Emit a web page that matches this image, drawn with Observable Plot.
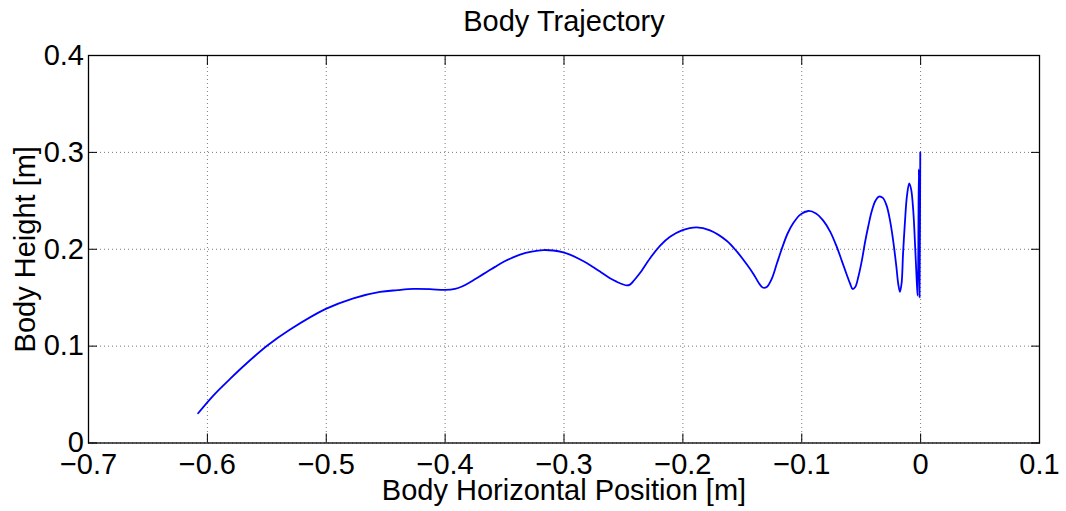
<!DOCTYPE html>
<html>
<head>
<meta charset="utf-8">
<script src="https://cdn.jsdelivr.net/npm/d3@7"></script>
<script src="https://cdn.jsdelivr.net/npm/@observablehq/plot@0.6"></script>
<style>
  body { margin: 0; background: #fff; }
  svg { display: block; }
</style>
</head>
<body>
<div id="chart"></div>
<script>
// Body trajectory samples: horizontal position [m] and height [m]
const bodyX = [
  -0.6078, -0.5950, -0.5809, -0.5669, -0.5495, -0.5304, -0.5004, -0.4772,
  -0.4548, -0.4400, -0.4267, -0.4127, -0.4001, -0.3917, -0.3858, -0.3791,
  -0.3721, -0.3650, -0.3580, -0.3511, -0.3440, -0.3370, -0.3272, -0.3174,
  -0.3090, -0.3006, -0.2950, -0.2880, -0.2809, -0.2740, -0.2697, -0.2613,
  -0.2557, -0.2501, -0.2473, -0.2445, -0.2410, -0.2361, -0.2277, -0.2193,
  -0.2108, -0.2008, -0.1884, -0.1772, -0.1632, -0.1545, -0.1463, -0.1408,
  -0.1360, -0.1329, -0.1295, -0.1253, -0.1210, -0.1169, -0.1120, -0.1071,
  -0.1010, -0.0945, -0.0880, -0.0819, -0.0760, -0.0707, -0.0660, -0.0622,
  -0.0595, -0.0572, -0.0550, -0.0525, -0.0495, -0.0468, -0.0440, -0.0412,
  -0.0380, -0.0351, -0.0318, -0.0286, -0.0258, -0.0231, -0.0205, -0.0188,
  -0.0174, -0.0160, -0.0148, -0.0132, -0.0115, -0.0096, -0.0080, -0.0062,
  -0.0045, -0.0033, -0.0025, -0.0015, -0.0009, -0.0003
];
const bodyY = [
  0.0307, 0.0490, 0.0662, 0.0823, 0.1006, 0.1171, 0.1384, 0.1494,
  0.1560, 0.1578, 0.1590, 0.1588, 0.1580, 0.1590, 0.1615, 0.1659,
  0.1712, 0.1765, 0.1818, 0.1868, 0.1910, 0.1945, 0.1976, 0.1992,
  0.1987, 0.1968, 0.1945, 0.1905, 0.1858, 0.1805, 0.1770, 0.1700,
  0.1665, 0.1636, 0.1627, 0.1635, 0.1680, 0.1755, 0.1905, 0.2035,
  0.2128, 0.2195, 0.2226, 0.2195, 0.2088, 0.1975, 0.1845, 0.1748,
  0.1650, 0.1605, 0.1610, 0.1694, 0.1850, 0.2000, 0.2160, 0.2270,
  0.2360, 0.2395, 0.2370, 0.2295, 0.2180, 0.2030, 0.1870, 0.1740,
  0.1650, 0.1590, 0.1610, 0.1710, 0.1880, 0.2070, 0.2240, 0.2390,
  0.2500, 0.2543, 0.2530, 0.2450, 0.2300, 0.2090, 0.1830, 0.1640,
  0.1560, 0.1650, 0.1950, 0.2280, 0.2550, 0.2680, 0.2620, 0.2400,
  0.2000, 0.1680, 0.1521, 0.2828, 0.1504, 0.2999
];

const xTicks = [-0.7, -0.6, -0.5, -0.4, -0.3, -0.2, -0.1, 0, 0.1];
const yTicks = [0, 0.1, 0.2, 0.3, 0.4];

const titleText = ["Body Trajectory"];
const xLabel = ["Body Horizontal Position [m]"];
const yLabel = ["Body Height [m]"];

const trajectory = bodyX.map((x, i) => ({x, y: bodyY[i]}));
const fmt = d3.format(".1~f");
const none = () => "";
const font = "'Liberation Sans', Arial, Helvetica, sans-serif";
const gridStyle = {stroke: "#7a7a7a", strokeOpacity: 1, strokeDasharray: "1,3", strokeWidth: 1};

const chart = Plot.plot({
  width: 1066,
  height: 511,
  marginLeft: 88,
  marginRight: 27,
  marginTop: 55,
  marginBottom: 68.5,
  style: {fontFamily: font, fontSize: "29px", color: "black", background: "white"},
  x: {domain: [-0.7, 0.1]},
  y: {domain: [0, 0.4]},
  marks: [
    Plot.gridX(xTicks, gridStyle),
    Plot.gridY(yTicks, gridStyle),
    Plot.line(trajectory, {x: "x", y: "y", stroke: "#0000ff", strokeWidth: 1.8, curve: "catmull-rom"}),
    Plot.axisX(xTicks, {anchor: "bottom", tickSize: -9, tickPadding: 19.6, tickFormat: fmt, fontSize: 29, label: null}),
    Plot.axisX(xTicks, {anchor: "top", tickSize: -9, tickFormat: none, label: null}),
    Plot.axisY(yTicks, {anchor: "left", tickSize: -9, tickPadding: 13.5, tickFormat: fmt, fontSize: 29, label: null}),
    Plot.axisY(yTicks, {anchor: "right", tickSize: -9, tickFormat: none, label: null}),
    Plot.frame({stroke: "black", strokeWidth: 1.3}),
    Plot.text(titleText, {text: d => d, frameAnchor: "top", dy: -25, lineAnchor: "bottom", fontSize: 29}),
    Plot.text(xLabel, {text: d => d, frameAnchor: "bottom", dy: 57, lineAnchor: "bottom", fontSize: 29}),
    Plot.text(yLabel, {text: d => d, frameAnchor: "left", textAnchor: "middle", dx: -54, rotate: -90, lineAnchor: "bottom", fontSize: 29})
  ]
});

document.getElementById("chart").appendChild(chart);
</script>
</body>
</html>
